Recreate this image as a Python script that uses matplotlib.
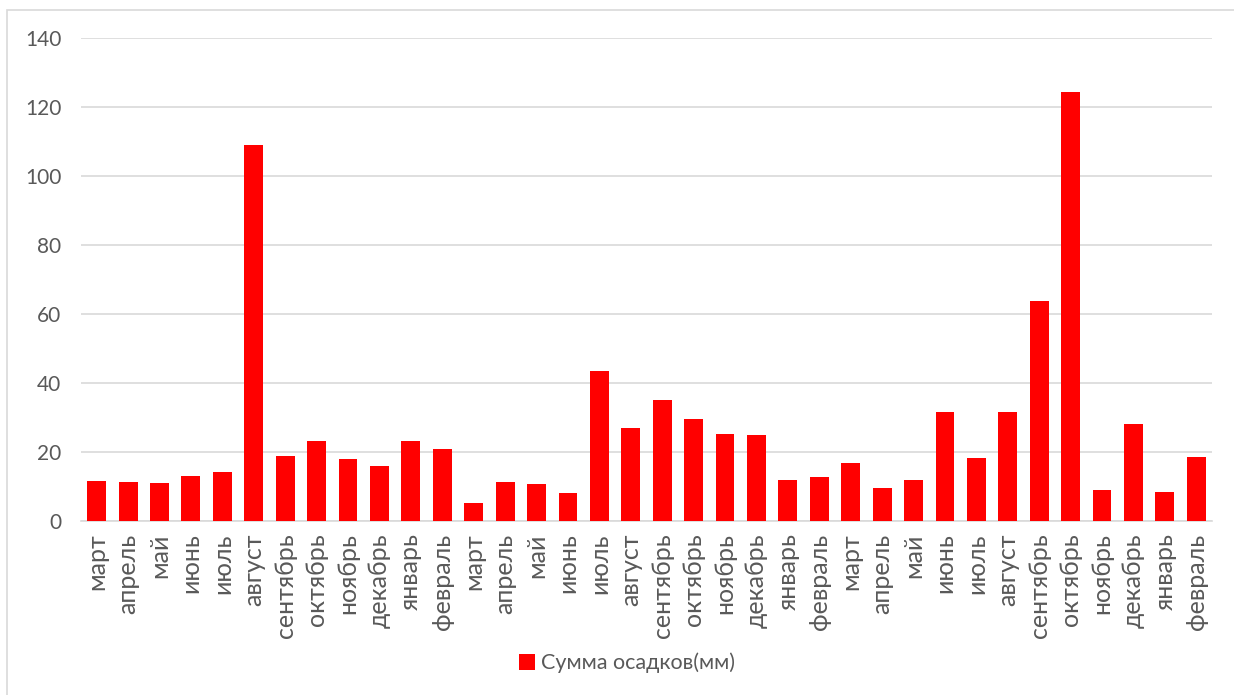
import matplotlib

matplotlib.use("Agg")
import matplotlib.pyplot as plt
from matplotlib.patches import Rectangle

months = [
    "март", "апрель", "май", "июнь", "июль", "август",
    "сентябрь", "октябрь", "ноябрь", "декабрь", "январь", "февраль",
] * 3
precip = [
    11.6, 11.3, 11.0, 13.0, 14.2, 109.0, 18.8, 23.2, 18.0, 15.9, 23.2, 20.9,
    5.2, 11.3, 10.7, 8.1, 43.5, 27.0, 35.0, 29.6, 25.2, 24.9, 11.9, 12.8,
    16.8, 9.6, 11.9, 31.6, 18.3, 31.6, 63.8, 124.3, 9.0, 28.1, 8.4, 18.6,
]
series_name = "Сумма осадков(мм)"
y_ticks = [0, 20, 40, 60, 80, 100, 120, 140]

text_color = "#595959"
plt.rcParams["font.family"] = ["Lato", "DejaVu Sans"]

fig = plt.figure(figsize=(12.34, 6.95), dpi=100)
ax = fig.add_axes([0.0656, 0.2504, 0.9166, 0.6949])

x = range(len(precip))
ax.bar(x, precip, width=0.6, color="#FF0000", label=series_name, zorder=3)

ax.set_xlim(-0.5, len(precip) - 0.5)
ax.set_ylim(0, 140)
ax.set_yticks(y_ticks)
ax.set_xticks(list(x), months, rotation=90, fontsize=18, color=text_color)
ax.tick_params(axis="y", labelsize=15, labelcolor=text_color, length=0, pad=14)
ax.tick_params(axis="x", length=0, pad=9)
ax.grid(True, axis="y", color="#D9D9D9", linewidth=1.2, zorder=0)
for side in ("top", "right", "left"):
    ax.spines[side].set_visible(False)
ax.spines["bottom"].set_color("#D9D9D9")
ax.spines["bottom"].set_linewidth(1.2)

fig.legend(
    loc="center", bbox_to_anchor=(0.508, 0.046), frameon=False,
    fontsize=15.5, labelcolor=text_color, handlelength=0.75, handleheight=0.75,
    handletextpad=0.3,
)

# outer chart border
fig.patches.append(Rectangle((0.006, -0.01), 1.1, 0.996, transform=fig.transFigure,
                             fill=False, edgecolor="#D9D9D9", linewidth=1.2))

fig.savefig("out.png", dpi=100)
